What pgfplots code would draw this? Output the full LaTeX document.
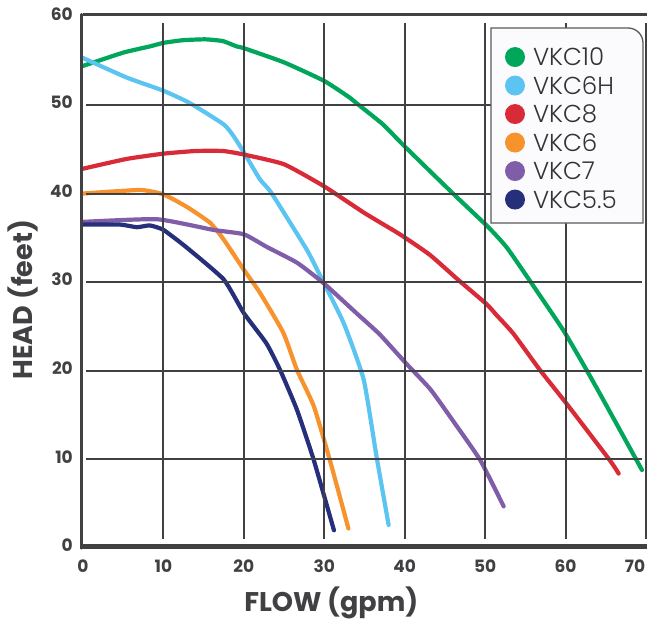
\documentclass[border=0pt]{standalone}
\usepackage{fontspec}
\usepackage{pgfplots}
\pgfplotsset{compat=1.18}
\setmainfont{Poppins}
\newcommand\tickfont{\bfseries}
\IfFontExistsTF{Poppins-Light}{\newfontfamily\legfont{Poppins-Light}}{%
  \IfFontExistsTF{Poppins Light}{\newfontfamily\legfont{Poppins Light}}{\newfontfamily\legfont{Poppins}}}
\definecolor{cgreen}{HTML}{00A65A}
\definecolor{cblue}{HTML}{5BC4F1}
\definecolor{cred}{HTML}{D82A37}
\definecolor{corange}{HTML}{F7922C}
\definecolor{cpurple}{HTML}{7F5DA8}
\definecolor{cnavy}{HTML}{262F79}
\definecolor{cgray}{HTML}{414042}
\definecolor{cbox}{HTML}{FBFBFD}
\definecolor{cboxline}{HTML}{5A5A5C}
\begin{document}
\begin{tikzpicture}
\begin{axis}[
  scale only axis,
  width=563pt, height=531.7pt,
  xmin=0, xmax=70, ymin=0, ymax=60,
  clip=false,
  axis line style={draw=none},
  tick style={draw=none},
  major tick length=0pt,
  xtick={0,10,...,60}, ytick={0,10,...,60},
  extra x ticks={70},
  extra x tick style={xticklabel style={xshift=-11pt}},
  /pgf/number format/assume math mode=true,
  ticklabel style={font=\tickfont\fontsize{17}{18}\selectfont, text=cgray},
  xticklabel style={anchor=north, inner sep=0pt, yshift=-11.5pt},
  yticklabel style={anchor=east, inner sep=0pt, xshift=-10pt, yshift=2.5pt},
  xlabel={FLOW (gpm)},
  ylabel={HEAD (feet)},
  label style={font=\tickfont\fontsize{27}{30}\selectfont, text=cgray},
  xlabel style={at={(axis description cs:0.441,0)}, anchor=base, yshift=-63pt, inner sep=0pt},
  ylabel style={at={(axis description cs:-0.0900,0.467)}, anchor=base, inner sep=0pt},
  legend style={at={(axis cs:52.47,56.53)}, anchor=north west, draw=none, fill=none,
    inner sep=0pt, outer sep=0pt, row sep=8.4pt, column sep=8pt,
    font=\legfont\fontsize{24.5}{26}\selectfont, text=black!80,
    nodes={inner sep=0pt, anchor=base west}},
  legend cell align=left,
  legend image code/.code={\fill[#1, draw=none] (10pt,8.6pt) circle (10pt);},
  every axis plot/.append style={line width=4.2pt, line cap=round, line join=round, smooth, tension=0.3},
]
\addplot[color=cgreen] coordinates {
(0,54.4) (5,55.9) (8.3,56.6) (10,57.0) (12.4,57.3) (15.2,57.4) (17.4,57.2) (19.1,56.6)
(20,56.4) (25,54.8) (30,52.7) (33.2,50.8) (34.0,50.2) (37.3,47.8) (39.9,45.4) (46,40.0)
(50.4,36.2) (52.7,33.9) (55.6,30.1) (59.7,24.6) (62.6,20.1) (64.7,16.7) (69.5,8.8)};
\addlegendentry{VKC10}
\addplot[color=cblue] coordinates {
(0,55.3) (5.4,53.1) (10,51.6) (13.3,50.2) (17.5,47.8) (18.7,46.5) (19.9,44.8) (22.0,41.6)
(23.4,40.1) (27.8,33.7) (29.5,30.7) (32.4,25.4) (34.9,19.0) (36.5,10.3) (38.0,2.6)};
\addlegendentry{VKC6H}
\addplot[color=cred] coordinates {
(0,42.8) (5.4,43.9) (10,44.5) (14,44.8) (17.4,44.8) (20,44.4) (25,43.3) (30,40.8)
(35,37.8) (39.4,35.4) (43.1,33.1) (46.6,30.3) (50.2,27.5) (51.4,26.3) (53.5,24.2)
(56.8,20.1) (60.2,16.2) (65.5,9.9) (66.6,8.4)};
\addlegendentry{VKC8}
\addplot[color=corange] coordinates {
(0,40.0) (7.1,40.4) (10,39.9) (12.9,38.5) (15.8,36.7) (17.5,34.8) (20,31.4) (22.0,28.8)
(24.9,24.3) (26.6,20.1) (28.7,16.0) (30.7,9.9) (33.0,2.2)};
\addlegendentry{VKC6}
\addplot[color=cpurple] coordinates {
(0,36.8) (9.2,37.1) (16.2,35.9) (20,35.4) (22.8,34.0) (26.6,32.2) (29.9,29.9) (34.0,26.5)
(36.9,24.1) (40.2,20.8) (43.2,17.9) (46.2,14.1) (49.4,9.9) (52.3,4.7)};
\addlegendentry{VKC7}
\addplot[color=cnavy] coordinates {
(0,36.5) (4.6,36.5) (6.7,36.2) (8.3,36.4) (10,35.9) (12.9,33.9) (17.5,30.3) (20.0,26.5)
(22.8,23.1) (24.5,20.1) (26.6,15.6) (28.7,9.9) (31.2,2.0)};
\addlegendentry{VKC5.5}
% grid
\foreach \gx in {10,20,30,40,50,60,70} {
  \edef\temp{\noexpand\draw[cgray, line width=2pt] (axis cs:\gx,0.98) -- (axis cs:\gx,59.2);}\temp
}
\foreach \gy in {10,20,30,40,50} {
  \edef\temp{\noexpand\draw[cgray, line width=2pt] (axis cs:0.37,\gy) -- (axis cs:69.5,\gy);}\temp
}
% axis lines
\draw[cgray, line width=3.3pt, line cap=round] (axis cs:0,0) ++(-1.3pt,0pt) -- ++(0pt,533.5pt);
\draw[cgray, line width=2.5pt] (axis cs:0,60) ++(0pt,1.8pt) -- ++(564pt,0pt);
\draw[cgray, line width=5.2pt] (axis cs:0,0) ++(-3pt,1.2pt) -- ++(568pt,0pt);
% legend box
\draw[cboxline, fill=cbox, line width=1.3pt] (axis cs:50.73,36.67) -- (axis cs:50.73,58.68) -- ++(137pt,0pt) arc[start angle=90, end angle=0, radius=15pt] -- (axis cs:69.63,36.67) -- cycle;
\end{axis}
\pgfresetboundingbox
\path[use as bounding box] (-83pt,-72pt) rectangle (564pt,548pt);
\end{tikzpicture}
\end{document}
